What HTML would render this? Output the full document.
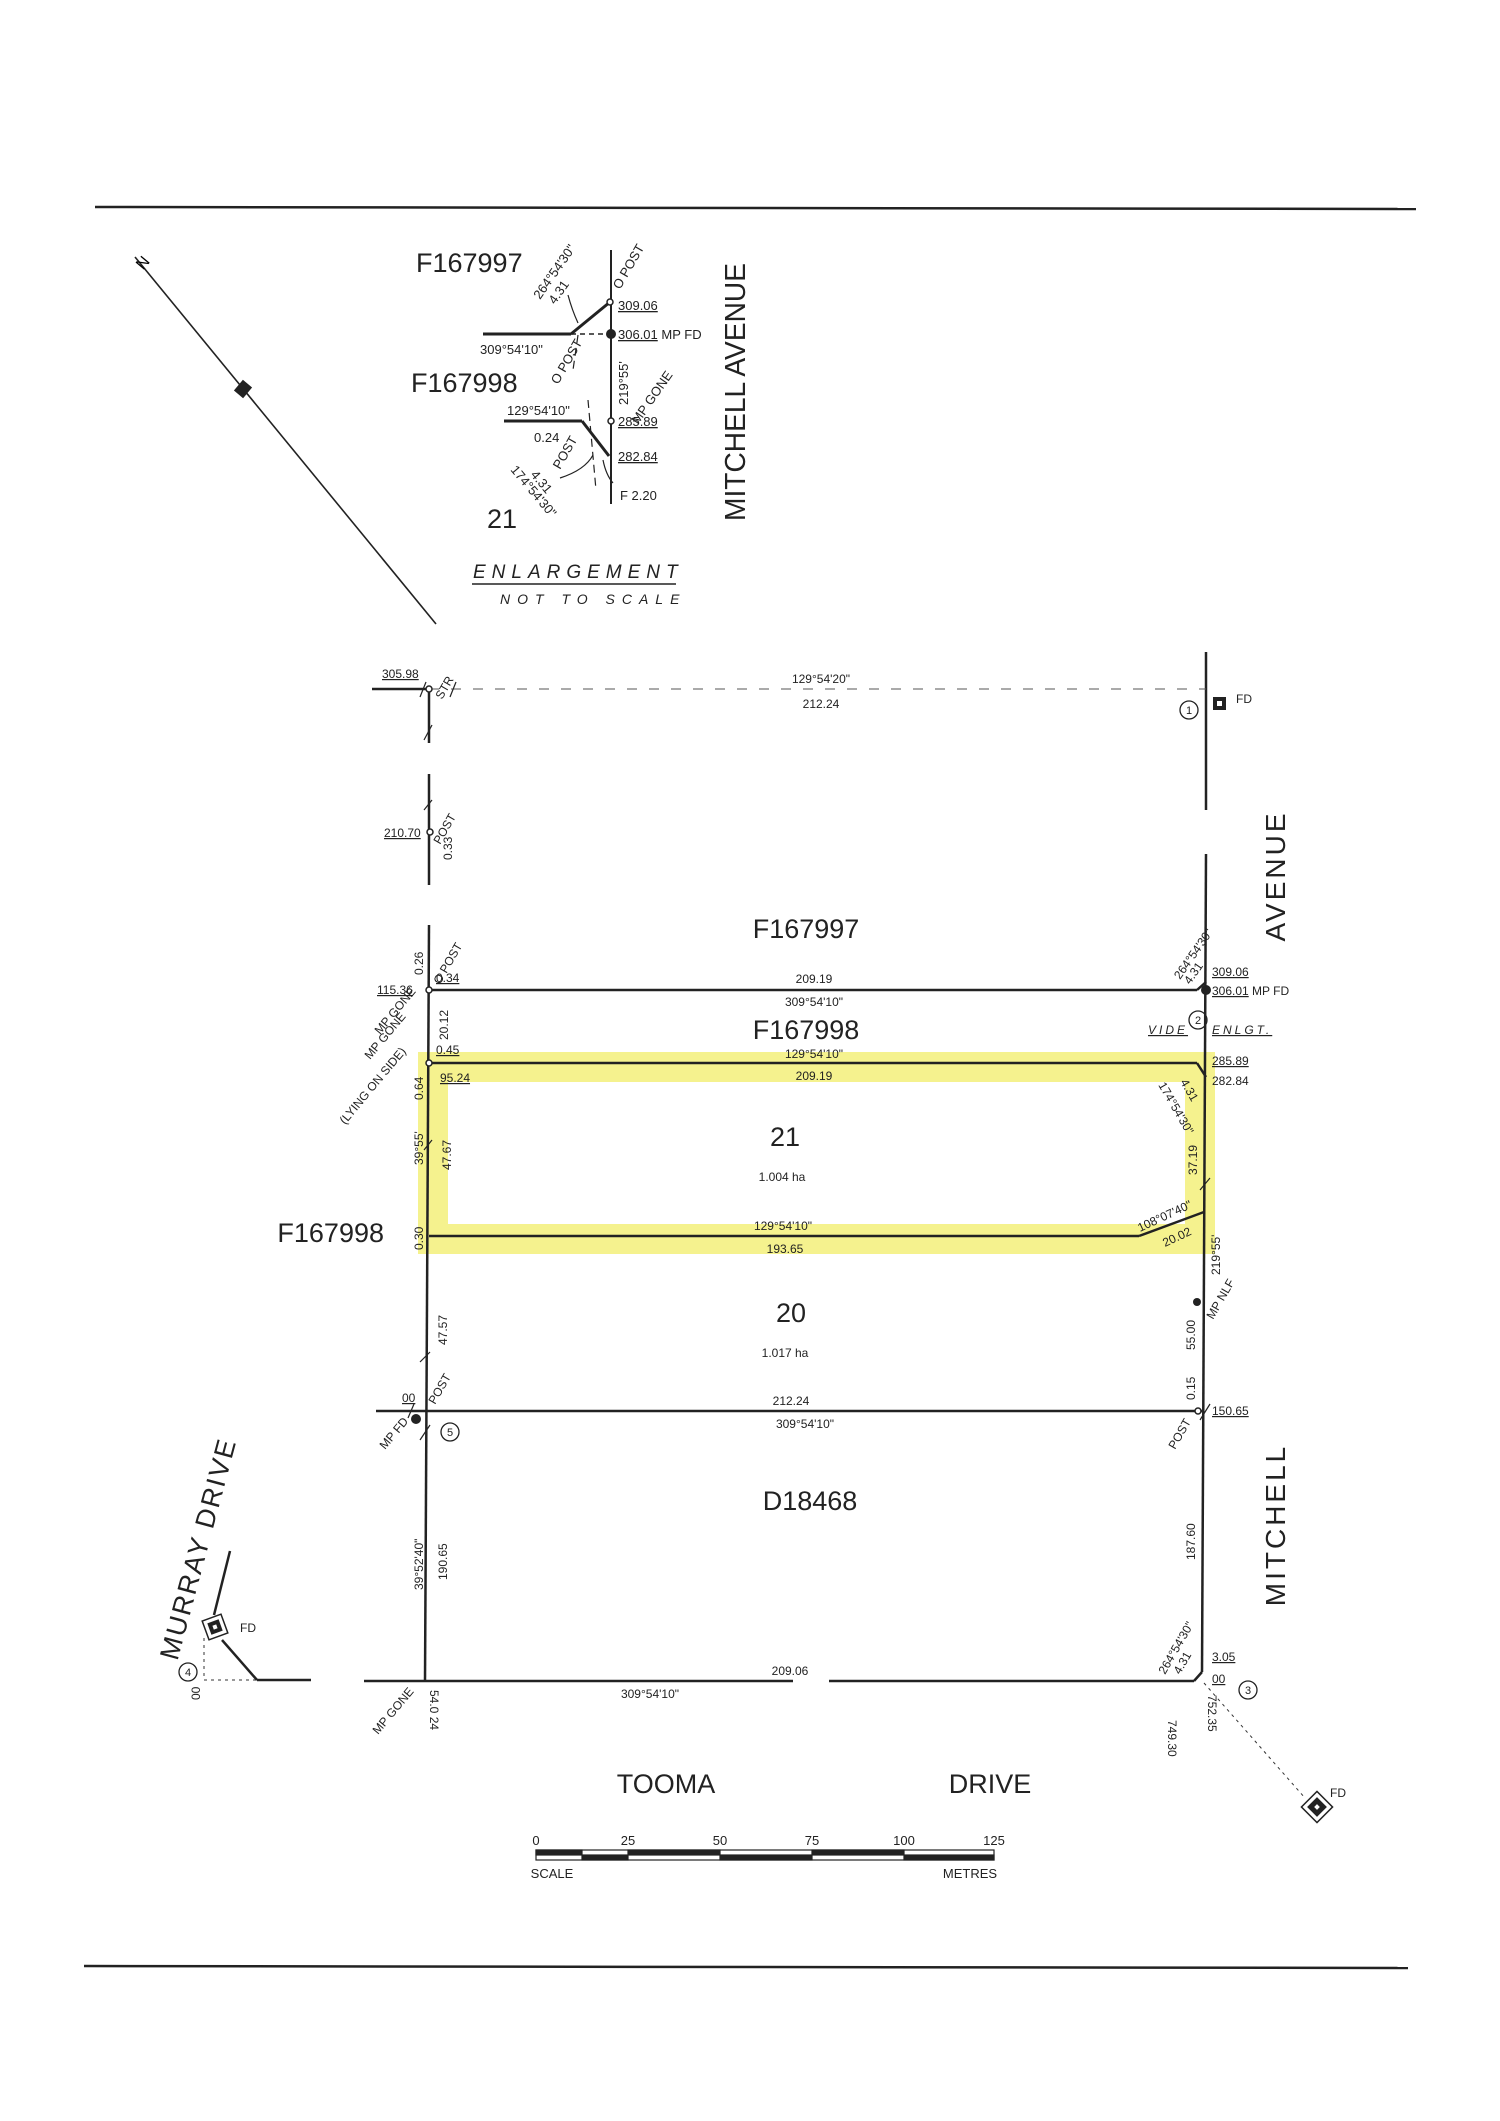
<!DOCTYPE html>
<html><head><meta charset="utf-8"><style>
html,body{margin:0;padding:0;background:#fff;}
svg{display:block;font-family:"Liberation Sans",sans-serif;}
</style></head><body>
<svg width="1500" height="2121" viewBox="0 0 1500 2121" xmlns="http://www.w3.org/2000/svg">
<rect width="1500" height="2121" fill="#fff"/>
<!-- rules -->
<line x1="95" y1="207" x2="1416" y2="209" stroke="#222" stroke-width="2.5"/>
<line x1="84" y1="1966" x2="1408" y2="1968" stroke="#222" stroke-width="2.5"/>

<!-- highlight -->
<rect x="433" y="1067" width="767" height="172" fill="none" stroke="#f3f07a" stroke-width="30" opacity="0.85"/>

<!-- north arrow -->
<line x1="135" y1="257" x2="436" y2="624" stroke="#222" stroke-width="1.6"/>
<rect x="236" y="383" width="14" height="12" fill="#222" transform="rotate(-50 243 389)"/>
<text x="140" y="272" font-size="16" transform="rotate(-50 140 268)">N</text>

<!-- enlargement -->
<g stroke="#222" fill="none" stroke-width="2">
<line x1="611" y1="250" x2="611" y2="504"/>
<line x1="483" y1="334" x2="571" y2="334" stroke-width="3"/>
<line x1="571" y1="334" x2="610" y2="302" stroke-width="3"/>
<line x1="571" y1="334" x2="611" y2="334" stroke-dasharray="5,4" stroke-width="1.5"/>
<line x1="504" y1="421" x2="582" y2="421" stroke-width="3"/>
<line x1="582" y1="421" x2="609" y2="456" stroke-width="3"/>
<line x1="588" y1="400" x2="596" y2="490" stroke-dasharray="8,5" stroke-width="1.2"/>
<line x1="578" y1="335" x2="573" y2="370" stroke-dasharray="8,5" stroke-width="1.2"/>
<path d="M593 455 Q585 470 560 478" stroke-width="1.2"/>
<path d="M603 460 Q606 475 613 483" stroke-width="1.2"/>
<path d="M578 323 Q572 310 568 295" stroke-width="1.2"/>
</g>
<circle cx="611" cy="334" r="5" fill="#222"/>
<circle cx="610" cy="302" r="3" fill="#fff" stroke="#222" stroke-width="1.5"/>
<circle cx="611" cy="421" r="3" fill="#fff" stroke="#222" stroke-width="1.5"/>
<g font-size="27" fill="#222">
<text x="416" y="272">F167997</text>
<text x="411" y="392">F167998</text>
<text x="487" y="528">21</text>
</g>
<g font-size="13" fill="#222">
<text x="480" y="354">309°54'10"</text>
<text x="507" y="415">129°54'10"</text>
<text x="618" y="310" text-decoration="underline">309.06</text>
<text x="618" y="339"><tspan text-decoration="underline">306.01</tspan> MP FD</text>
<text x="618" y="426" text-decoration="underline">285.89</text>
<text x="618" y="461" text-decoration="underline">282.84</text>
<text x="620" y="500">F 2.20</text>
<text x="534" y="442">0.24</text>
<text x="540" y="300" transform="rotate(-55 540 300)">264°54'30"</text>
<text x="555" y="305" transform="rotate(-55 555 305)">4.31</text>
<text x="620" y="290" transform="rotate(-60 620 290)">O POST</text>
<text x="558" y="385" transform="rotate(-60 558 385)">O POST</text>
<text x="560" y="470" transform="rotate(-60 560 470)">POST</text>
<text x="628" y="405" transform="rotate(-90 628 405)">219°55'</text>
<text x="638" y="425" transform="rotate(-55 638 425)">MP GONE</text>
<text x="510" y="470" transform="rotate(50 510 470)">174°54'30"</text>
<text x="530" y="475" transform="rotate(50 530 475)">4.31</text>
</g>
<text x="745" y="392" font-size="29" fill="#222" text-anchor="middle" textLength="258" lengthAdjust="spacingAndGlyphs" transform="rotate(-90 745 392)">MITCHELL AVENUE</text>
<text x="473" y="578" font-size="19" font-style="italic" letter-spacing="6" fill="#222">ENLARGEMENT</text>
<line x1="472" y1="584" x2="676" y2="584" stroke="#222" stroke-width="1.5"/>
<text x="500" y="604" font-size="14" font-style="italic" letter-spacing="7" fill="#222">NOT TO SCALE</text>

<!-- main plan lines -->
<g stroke="#222" fill="none" stroke-width="2.5">
<line x1="372" y1="689" x2="429" y2="689"/>
<line x1="429" y1="689" x2="429" y2="743"/>
<line x1="429" y1="774" x2="429" y2="885"/>
<line x1="429" y1="925" x2="425" y2="1681"/>
<line x1="1206" y1="652" x2="1206" y2="810"/>
<line x1="1206" y1="854" x2="1202" y2="1672"/>
<line x1="1202" y1="1672" x2="1194" y2="1681"/>
<line x1="429" y1="990" x2="1197" y2="990"/>
<line x1="1197" y1="990" x2="1206" y2="982"/>
<line x1="429" y1="1063" x2="1197" y2="1063"/>
<line x1="1197" y1="1063" x2="1206" y2="1077"/>
<line x1="429" y1="1236" x2="1139" y2="1236"/>
<line x1="1139" y1="1236" x2="1204" y2="1212"/>
<line x1="376" y1="1411" x2="1202" y2="1411"/>
<line x1="364" y1="1681" x2="793" y2="1681"/>
<line x1="829" y1="1681" x2="1194" y2="1681"/>
<line x1="230" y1="1551" x2="214" y2="1615"/>
<line x1="222" y1="1640" x2="257" y2="1680"/>
<line x1="257" y1="1680" x2="311" y2="1680"/>
</g>
<line x1="429" y1="689" x2="1206" y2="689" stroke="#555" stroke-width="1" stroke-dasharray="10,12"/>
<g stroke="#333" stroke-width="1" stroke-dasharray="3,4" fill="none">
<line x1="204" y1="1638" x2="204" y2="1680"/>
<line x1="204" y1="1680" x2="257" y2="1680"/>
<line x1="1204" y1="1683" x2="1305" y2="1798"/>
</g>
<!-- ticks -->
<g stroke="#222" stroke-width="1.2">
<line x1="420" y1="697" x2="426" y2="682"/><line x1="450" y1="697" x2="456" y2="682"/>
<line x1="424" y1="740" x2="432" y2="725"/><line x1="424" y1="810" x2="432" y2="800"/>
<line x1="424" y1="1150" x2="432" y2="1140"/><line x1="420" y1="1362" x2="430" y2="1352"/>
<line x1="420" y1="1440" x2="430" y2="1425"/><line x1="408" y1="1418" x2="414" y2="1404"/>
<line x1="1200" y1="1420" x2="1210" y2="1404"/><line x1="1200" y1="1190" x2="1210" y2="1178"/>
</g>
<!-- markers -->
<circle cx="429" cy="689" r="3" fill="#fff" stroke="#222" stroke-width="1.5"/>
<circle cx="430" cy="832" r="3" fill="#fff" stroke="#222" stroke-width="1.5"/>
<circle cx="429" cy="990" r="3" fill="#fff" stroke="#222" stroke-width="1.5"/>
<circle cx="429" cy="1063" r="3" fill="#fff" stroke="#222" stroke-width="1.5"/>
<circle cx="1206" cy="990" r="5" fill="#222"/>
<circle cx="1197" cy="1302" r="4" fill="#222"/>
<circle cx="416" cy="1419" r="5" fill="#222"/>
<circle cx="1198" cy="1411" r="3" fill="#fff" stroke="#222" stroke-width="1.5"/>
<rect x="1213" y="697" width="13" height="13" fill="#222"/><rect x="1217" y="701" width="5" height="5" fill="#fff"/>
<g fill="none" stroke="#222" stroke-width="1.3">
<circle cx="1189" cy="710" r="9"/><circle cx="1198" cy="1020" r="9"/>
<circle cx="450" cy="1432" r="9"/><circle cx="1248" cy="1690" r="9"/><circle cx="188" cy="1672" r="9"/>
</g>
<g transform="rotate(-20 215 1627)"><rect x="205" y="1617" width="20" height="20" fill="#fff" stroke="#222" stroke-width="1.5"/><rect x="209" y="1621" width="12" height="12" fill="#222"/><rect x="213" y="1625" width="4" height="4" fill="#fff"/></g>
<g transform="rotate(45 1317 1807)"><rect x="1306" y="1796" width="22" height="22" fill="#fff" stroke="#222" stroke-width="1.5"/><rect x="1310" y="1800" width="14" height="14" fill="#222"/><rect x="1315" y="1805" width="4" height="4" fill="#fff"/></g>
<g font-size="11" fill="#222" text-anchor="middle">
<text x="1189" y="714">1</text><text x="1198" y="1024">2</text><text x="450" y="1436">5</text><text x="1248" y="1694">3</text><text x="188" y="1676">4</text>
</g>

<!-- big labels -->
<g font-size="27" fill="#222" text-anchor="middle">
<text x="806" y="938">F167997</text>
<text x="806" y="1039">F167998</text>
<text x="785" y="1146">21</text>
<text x="791" y="1322">20</text>
<text x="810" y="1510">D18468</text>
<text x="666" y="1793">TOOMA</text>
<text x="990" y="1793">DRIVE</text>
</g>
<text x="384" y="1242" font-size="27" fill="#222" text-anchor="end">F167998</text>
<text x="1285" y="876" font-size="28" fill="#222" text-anchor="middle" letter-spacing="3" transform="rotate(-90 1285 876)">AVENUE</text>
<text x="1285" y="1525" font-size="28" fill="#222" text-anchor="middle" letter-spacing="3" transform="rotate(-90 1285 1525)">MITCHELL</text>
<text x="207" y="1551" font-size="27" fill="#222" text-anchor="middle" letter-spacing="2" transform="rotate(-75 207 1551)">MURRAY DRIVE</text>

<!-- small labels -->
<g font-size="12" fill="#222" text-anchor="middle">
<text x="821" y="683">129°54'20"</text><text x="821" y="708">212.24</text>
<text x="814" y="983">209.19</text><text x="814" y="1006">309°54'10"</text>
<text x="814" y="1058">129°54'10"</text><text x="814" y="1080">209.19</text>
<text x="782" y="1181">1.004 ha</text>
<text x="783" y="1230">129°54'10"</text><text x="785" y="1253">193.65</text>
<text x="785" y="1357">1.017 ha</text>
<text x="791" y="1405">212.24</text><text x="805" y="1428">309°54'10"</text>
<text x="790" y="1675">209.06</text><text x="650" y="1698">309°54'10"</text>
</g>
<g font-size="12" fill="#222">
<text x="382" y="678" text-decoration="underline">305.98</text>
<text x="384" y="837" text-decoration="underline">210.70</text>
<text x="377" y="994" text-decoration="underline">115.36</text>
<text x="436" y="982" text-decoration="underline">0.34</text>
<text x="436" y="1054" text-decoration="underline">0.45</text>
<text x="440" y="1082" text-decoration="underline">95.24</text>
<text x="1212" y="976" text-decoration="underline">309.06</text>
<text x="1212" y="995"><tspan text-decoration="underline">306.01</tspan> MP FD</text>
<text x="1148" y="1034" font-style="italic" letter-spacing="3" text-decoration="underline">VIDE</text>
<text x="1212" y="1034" font-style="italic" letter-spacing="3" text-decoration="underline">ENLGT.</text>
<text x="1212" y="1065" text-decoration="underline">285.89</text>
<text x="1212" y="1085">282.84</text>
<text x="1212" y="1415" text-decoration="underline">150.65</text>
<text x="1212" y="1661" text-decoration="underline">3.05</text>
<text x="1212" y="1683" text-decoration="underline">00</text>
<text x="402" y="1402" text-decoration="underline">00</text>
<text x="1236" y="703">FD</text><text x="240" y="1632">FD</text><text x="1330" y="1797">FD</text>
</g>
<g font-size="12" fill="#222">
<text x="442" y="700" transform="rotate(-60 442 700)">STR</text>
<text x="440" y="845" transform="rotate(-60 440 845)">POST</text>
<text x="440" y="985" transform="rotate(-60 440 985)">O POST</text>
<text x="452" y="860" transform="rotate(-90 452 860)">0.33</text>
<text x="423" y="975" transform="rotate(-90 423 975)">0.26</text>
<text x="448" y="1040" transform="rotate(-90 448 1040)">20.12</text>
<text x="423" y="1100" transform="rotate(-90 423 1100)">0.64</text>
<text x="423" y="1165" transform="rotate(-90 423 1165)">39°55'</text>
<text x="451" y="1170" transform="rotate(-90 451 1170)">47.67</text>
<text x="423" y="1250" transform="rotate(-90 423 1250)">0.30</text>
<text x="447" y="1345" transform="rotate(-90 447 1345)">47.57</text>
<text x="423" y="1590" transform="rotate(-90 423 1590)">39°52'40"</text>
<text x="447" y="1580" transform="rotate(-90 447 1580)">190.65</text>
<text x="380" y="1035" transform="rotate(-50 380 1035)">MP GONE</text>
<text x="370" y="1060" transform="rotate(-50 370 1060)">MP GONE</text>
<text x="345" y="1125" transform="rotate(-50 345 1125)">(LYING ON SIDE)</text>
<text x="385" y="1450" transform="rotate(-50 385 1450)">MP FD</text>
<text x="435" y="1405" transform="rotate(-60 435 1405)">POST</text>
<text x="378" y="1735" transform="rotate(-50 378 1735)">MP GONE</text>
<text x="430" y="1690" transform="rotate(90 430 1690)">54.0 24</text>
<text x="1180" y="980" transform="rotate(-55 1180 980)">264°54'30"</text>
<text x="1190" y="985" transform="rotate(-55 1190 985)">4.31</text>
<text x="1158" y="1085" transform="rotate(60 1158 1085)">174°54'30"</text>
<text x="1180" y="1082" transform="rotate(60 1180 1082)">4.31</text>
<text x="1197" y="1175" transform="rotate(-90 1197 1175)">37.19</text>
<text x="1140" y="1232" transform="rotate(-25 1140 1232)">108°07'40"</text>
<text x="1165" y="1247" transform="rotate(-25 1165 1247)">20.02</text>
<text x="1220" y="1275" transform="rotate(-90 1220 1275)">219°55'</text>
<text x="1213" y="1320" transform="rotate(-60 1213 1320)">MP NLF</text>
<text x="1195" y="1350" transform="rotate(-90 1195 1350)">55.00</text>
<text x="1195" y="1400" transform="rotate(-90 1195 1400)">0.15</text>
<text x="1175" y="1450" transform="rotate(-60 1175 1450)">POST</text>
<text x="1195" y="1560" transform="rotate(-90 1195 1560)">187.60</text>
<text x="1165" y="1675" transform="rotate(-60 1165 1675)">264°54'30"</text>
<text x="1180" y="1675" transform="rotate(-60 1180 1675)">4.31</text>
<text x="1208" y="1695" transform="rotate(90 1208 1695)">752.35</text>
<text x="1168" y="1720" transform="rotate(90 1168 1720)">749.30</text>
<text x="200" y="1700" transform="rotate(-90 200 1700)">00</text>
</g>

<!-- scale bar -->
<g stroke="#222" stroke-width="1.2">
<rect x="536" y="1850" width="458" height="10" fill="#fff"/>
<rect x="536" y="1850" width="46" height="5" fill="#222"/>
<rect x="582" y="1855" width="46" height="5" fill="#222"/>
<rect x="628" y="1850" width="92" height="5" fill="#222"/>
<rect x="720" y="1855" width="92" height="5" fill="#222"/>
<rect x="812" y="1850" width="92" height="5" fill="#222"/>
<rect x="904" y="1855" width="90" height="5" fill="#222"/>
</g>
<g font-size="13" fill="#222" text-anchor="middle">
<text x="536" y="1845">0</text><text x="628" y="1845">25</text><text x="720" y="1845">50</text>
<text x="812" y="1845">75</text><text x="904" y="1845">100</text><text x="994" y="1845">125</text>
<text x="552" y="1878">SCALE</text><text x="970" y="1878">METRES</text>
</g>
</svg>
</body></html>
